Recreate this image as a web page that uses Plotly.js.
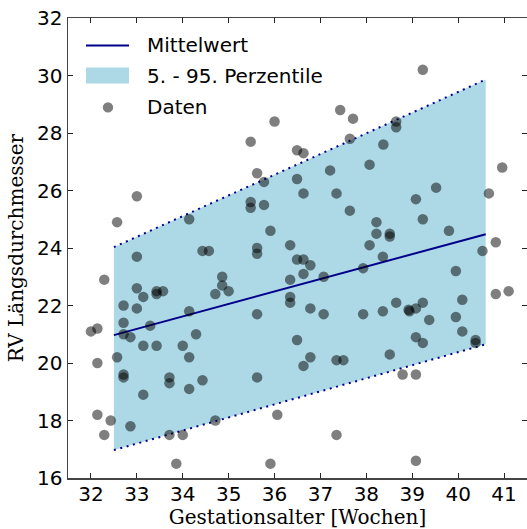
<!DOCTYPE html>
<html>
<head>
<meta charset="utf-8">
<script src="https://cdn.plot.ly/plotly-3.0.1.min.js"></script>
<style>
  html, body { margin: 0; padding: 0; background: #fff; }
  #chart { width: 527px; height: 529px; }
</style>
</head>
<body>
<div id="chart"></div>
<script>
// Gestational age (weeks) and RV longitudinal diameter of each case
const alterWochen = [
  33.00, 34.43, 34.57, 32.29, 33.00, 33.14, 33.43, 33.43, 33.57, 34.71,
  32.71, 33.00, 34.14, 32.71, 33.29, 32.00, 32.14, 32.71, 32.86, 34.29,
  33.14, 33.43, 34.00, 32.57, 34.14, 32.14, 32.71, 32.71, 33.71, 33.71,
  34.43, 34.14, 33.14, 32.14, 32.43, 32.86, 34.71, 32.29, 33.71, 34.00,
  33.86, 33.00, 32.57, 34.14, 37.43, 37.71, 36.00, 35.48, 36.49, 36.63,
  37.64, 35.62, 35.77, 36.49, 37.21, 38.07, 35.48, 35.48, 35.77, 36.63,
  37.35, 37.64, 35.91, 35.62, 36.34, 38.07, 39.23, 38.65, 38.65, 38.37,
  40.96, 39.52, 40.67, 39.08, 38.22, 39.23, 38.22, 38.51, 38.51, 39.80,
  40.82, 35.62, 34.86, 34.86, 35.00, 36.49, 36.63, 36.78, 36.63, 36.34,
  37.07, 37.93, 36.34, 36.34, 35.62, 36.78, 37.07, 37.93, 36.49, 36.78,
  36.63, 37.35, 37.50, 35.62, 36.06, 37.35, 35.91, 40.53, 38.36, 39.95,
  40.82, 41.10, 38.36, 38.65, 38.94, 38.92, 39.08, 39.23, 39.37, 40.09,
  39.95, 40.09, 39.08, 39.23, 40.38, 40.38, 38.51, 38.79, 39.08, 39.08
];
const rvLaenge = [
  23.7, 23.9, 23.9, 22.9, 22.6, 22.3, 22.5, 22.4, 22.5, 22.4,
  22.0, 21.9, 21.8, 21.4, 21.3, 21.1, 21.2, 21.0, 20.9, 21.0,
  20.6, 20.6, 20.6, 20.2, 20.2, 20.0, 19.6, 19.5, 19.5, 19.3,
  19.4, 19.1, 18.9, 18.2, 18.0, 17.8, 18.0, 17.5, 17.5, 17.5,
  16.5, 25.8, 24.9, 25.0, 28.8, 28.5, 28.4, 27.7, 27.4, 27.3,
  27.8, 26.6, 26.3, 26.4, 26.7, 26.9, 25.6, 25.4, 25.5, 25.9,
  25.9, 25.3, 24.6, 24.0, 24.1, 24.1, 30.2, 28.4, 28.2, 27.6,
  26.8, 26.1, 25.9, 25.7, 24.9, 25.0, 24.5, 24.5, 24.4, 24.6,
  24.2, 23.8, 23.0, 22.7, 22.5, 23.6, 23.6, 23.4, 23.1, 22.9,
  23.0, 23.3, 22.3, 22.1, 21.7, 21.9, 21.7, 21.7, 20.8, 20.2,
  19.9, 20.1, 20.1, 19.5, 18.2, 17.5, 16.5, 23.9, 23.7, 23.2,
  22.4, 22.5, 21.8, 22.1, 21.8, 21.85, 21.9, 22.1, 21.5, 22.2,
  21.6, 21.1, 20.9, 20.7, 20.8, 20.7, 20.3, 19.6, 19.6, 16.6
];

// Reference curves: mean and 5th / 95th percentile
const kurveX = [32.5, 40.6];
const mittelwert = [20.97, 24.48];
const perzentil5 = [16.97, 20.65];
const perzentil95 = [24.03, 29.86];

const xTicks = [32, 33, 34, 35, 36, 37, 38, 39, 40, 41];
const yTicks = [16, 18, 20, 22, 24, 26, 28, 30, 32];

const navy = '#00008b';
const band = '#add8e6';
const dotDash = '2px,4.6px';

const traces = [
  {
    x: kurveX, y: perzentil5, type: 'scatter', mode: 'lines',
    line: { color: navy, width: 2, dash: dotDash },
    hoverinfo: 'skip', showlegend: false
  },
  {
    x: kurveX, y: perzentil95, type: 'scatter', mode: 'lines',
    fill: 'tonexty', fillcolor: band,
    line: { color: navy, width: 2, dash: dotDash },
    hoverinfo: 'skip', showlegend: false
  },
  {
    x: kurveX, y: mittelwert, type: 'scatter', mode: 'lines',
    line: { color: navy, width: 2 },
    showlegend: false
  },
  {
    x: alterWochen, y: rvLaenge, type: 'scatter', mode: 'markers',
    marker: { size: 10.5, color: 'rgba(0,0,0,0.5)', line: { width: 0 } },
    showlegend: false
  }
];

const tickFont = { family: 'DejaVu Sans', size: 20, color: '#000' };
const titleFont = { family: 'DejaVu Serif', size: 20, color: '#000' };
const legendFont = { family: 'DejaVu Sans', size: 20, color: '#000' };

const axisCommon = {
  showgrid: false, zeroline: false,
  showline: true, linecolor: '#444', linewidth: 1.5,
  mirror: 'allticks', ticks: 'inside', ticklen: 5, tickwidth: 1, tickcolor: '#222',
  tickfont: tickFont, fixedrange: true
};

const layout = {
  width: 527, height: 529,
  margin: { l: 68, r: 0, t: 18, b: 51 },
  paper_bgcolor: '#fff', plot_bgcolor: '#fff',
  showlegend: false,
  xaxis: Object.assign({}, axisCommon, {
    range: [31.5, 41.5], tickvals: xTicks, ticktext: xTicks.map(String),
    ticklabelstandoff: -3,
    title: { text: 'Gestationsalter [Wochen]', font: titleFont, standoff: 6 }
  }),
  yaxis: Object.assign({}, axisCommon, {
    range: [16, 32], tickvals: yTicks, ticktext: yTicks.map(String),
    title: { text: 'RV Längsdurchmesser', font: titleFont, standoff: 8 }
  }),
  // Legend box in the upper-left corner of the plot
  shapes: [
    { type: 'line', xref: 'paper', yref: 'paper', x0: 0.0392, x1: 0.1329, y0: 0.9403, y1: 0.9403,
      line: { color: navy, width: 2 } },
    { type: 'rect', xref: 'paper', yref: 'paper', x0: 0.0392, x1: 0.1329, y0: 0.8578, y1: 0.8925,
      fillcolor: band, line: { width: 0 } },
    { type: 'circle', xref: 'paper', yref: 'paper', xsizemode: 'pixel', ysizemode: 'pixel',
      xanchor: 0.0871, yanchor: 0.8056, x0: -5.2, x1: 5.2, y0: -5.2, y1: 5.2,
      fillcolor: 'rgba(0,0,0,0.5)', line: { width: 0 } }
  ],
  annotations: [
    { text: 'Mittelwert', xref: 'paper', yref: 'paper', x: 0.1678, y: 0.9403,
      xanchor: 'left', yanchor: 'middle', showarrow: false, font: legendFont },
    { text: '5. - 95. Perzentile', xref: 'paper', yref: 'paper', x: 0.1678, y: 0.8750,
      xanchor: 'left', yanchor: 'middle', showarrow: false, font: legendFont },
    { text: 'Daten', xref: 'paper', yref: 'paper', x: 0.1678, y: 0.8056,
      xanchor: 'left', yanchor: 'middle', showarrow: false, font: legendFont }
  ]
};

Plotly.newPlot('chart', traces, layout, { displayModeBar: false, staticPlot: true });
</script>
</body>
</html>
